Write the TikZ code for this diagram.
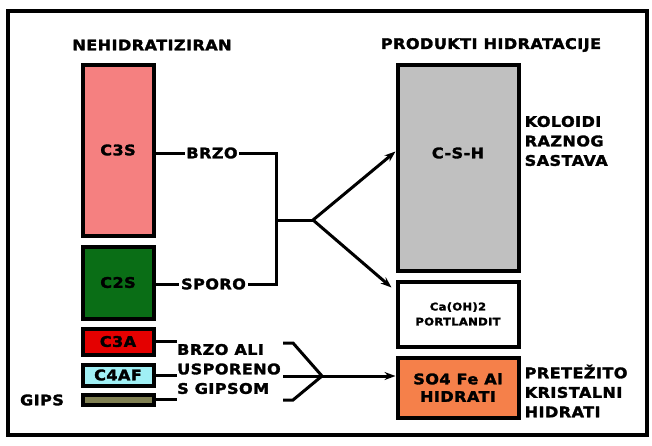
\documentclass[tikz,border=0pt]{standalone}
\usepackage{fontspec}
\setmainfont{DejaVu Sans}[FakeStretch=1.1, LetterSpace=3, BoldFeatures={FakeBold=2}]
\usetikzlibrary{arrows.meta, positioning, calc}
\definecolor{pinkc3s}{RGB}{245, 128, 128}
\definecolor{greenc2s}{RGB}{10, 110, 22}
\definecolor{redc3a}{RGB}{228, 0, 0}
\definecolor{cyanc4af}{RGB}{160, 240, 245}
\definecolor{olivegips}{RGB}{128, 128, 82}
\definecolor{graycsh}{RGB}{192, 192, 192}
\definecolor{orangeso4}{RGB}{245, 128, 74}

\begin{document}
\begin{tikzpicture}[
  x=1pt, y=-1pt,
  phase/.style={rectangle, draw=black, line width=4pt, inner sep=0pt, minimum width=71pt, font=\fontsize{14.6}{19}\selectfont\bfseries},
  product/.style={phase, minimum width=121pt},
  heading/.style={font=\fontsize{14.6}{19.5}\selectfont\bfseries, inner sep=1.5pt},
  note/.style={heading, align=left, anchor=west},
  wire/.style={line width=3pt},
  arrow/.style={wire, -{Stealth[length=11pt, width=8pt]}}
]
  \useasboundingbox (0,0) rectangle (652,445);
  \draw[line width=4.5pt] (8,11) rectangle (647,435);

  % headings
  \node[heading] (unhyd) at (152,45) {NEHIDRATIZIRAN};
  \node[heading] (prod) at (491,45) {PRODUKTI HIDRATACIJE};

  % clinker phases
  \node[phase, fill=pinkc3s, minimum height=171pt] (c3s) at (118,150) {C3S};
  \node[phase, fill=greenc2s, minimum height=72pt] (c2s) at (118,282.5) {C2S};
  \node[phase, fill=redc3a, minimum height=26pt] (c3a) at (118,341.5) {C3A};
  \node[phase, fill=cyanc4af, minimum height=21pt] (c4af) at (118,375) {C4AF};
  \node[phase, fill=olivegips, minimum height=10pt] (gips) at (118,399.5) {};
  \node[heading] (gipstext) at (42,400) {GIPS};

  % hydration products
  \node[product, fill=graycsh, minimum height=206pt] (csh) at (458,167.5) {};
  \node[heading] (cshtext) at (458,153) {C-S-H};
  \node[product, fill=white, minimum height=65pt, font=\fontsize{10.5}{15}\selectfont\bfseries, align=center] (caoh) at (458,314) {Ca(OH)2\\PORTLANDIT};
  \node[product, fill=orangeso4, minimum height=60pt, align=center, font=\fontsize{14.6}{17.5}\selectfont\bfseries] (so4) at (458,387.5) {SO4 Fe Al\\HIDRATI};
  \node[note] (koloid) at (523,141) {KOLOIDI\\RAZNOG\\SASTAVA};
  \node[note] (krist) at (523,391) {PRETEŽITO\\KRISTALNI\\HIDRATI};

  % silicates
  \node[heading] (brzo) at (212,153) {BRZO};
  \node[heading] (sporo) at (213.5,284) {SPORO};
  \coordinate (jtop) at (276,153);
  \coordinate (jbot) at (276,284);
  \coordinate (jmid) at (276,220);
  \coordinate (fork) at (313,220);
  \draw[wire] (brzo.west -| c3s.east) -- (brzo.west);
  \draw[wire] (sporo.west -| c2s.east) -- (sporo.west);
  \draw[wire] (brzo.east) -- (jtop) -- (jbot) -- (sporo.east);
  \draw[wire] (jmid) -- (fork);
  \draw[arrow] (fork) -- ([yshift=16pt]csh.west);
  \draw[arrow] (fork) -- ([xshift=-4pt, yshift=-8pt]caoh.north west);

  % aluminates
  \node[note, inner sep=0pt] (slow) at (177,369) {BRZO ALI\\USPORENO\\S GIPSOM};
  \draw[wire] (c3a.east) -- (c3a.east -| slow.west);
  \draw[wire] (c4af.east) -- (c4af.east -| slow.west);
  \draw[wire] (gips.east) -- (gips.east -| slow.west);
  \coordinate (bkt) at (283,343);
  \coordinate (bkb) at (283,400);
  \coordinate (bkm) at (283,376);
  \coordinate (bkfork) at (322,376);
  \draw[wire] (bkt) -- ++(10,0) -- (bkfork) -- ++(-29,24) -- (bkb);
  \draw[arrow] (bkm) -- (so4.west |- bkm);
\end{tikzpicture}
\end{document}
